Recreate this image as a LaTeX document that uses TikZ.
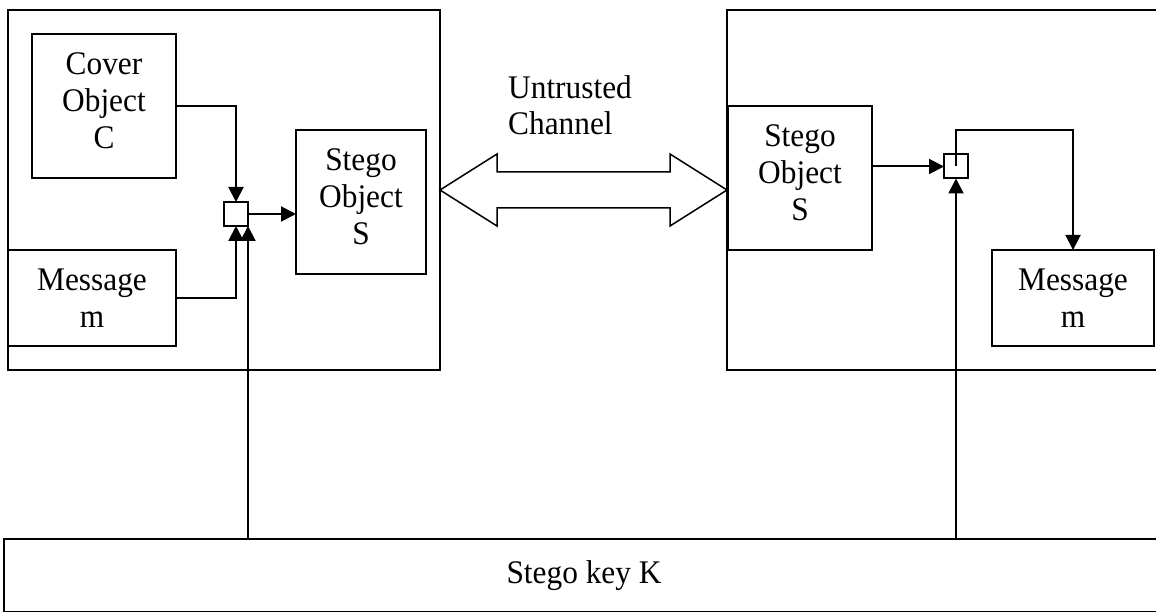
\documentclass[tikz,border=0pt]{standalone}
\usepackage{fontspec}
\setmainfont{Liberation Serif}[FakeStretch=0.95]
\usetikzlibrary{arrows.meta}
% extra depth on a last line, to lift a block of text a little
\newcommand{\lift}{\rule[-10pt]{0pt}{10pt}}
\begin{document}
\begin{tikzpicture}[x=1pt,y=-1pt,
  frame/.style={draw, line width=2pt, inner sep=0pt, outer sep=0pt},
  box/.style={frame, align=center, font=\fontsize{33}{37}\selectfont},
  junction/.style={frame, minimum width=24pt, minimum height=24pt},
  arr/.style={line width=2pt, -{Triangle[length=15pt,width=15pt]}},
  chan/.style={draw, line width=1.5pt, line join=miter}]
\useasboundingbox (0,0) rectangle (1156,612);
\clip (0,0) rectangle (1156,612);

% sender side
\node[frame, minimum width=432pt, minimum height=360pt] (sender) at (224,190) {};
\node[box, minimum width=144pt, minimum height=144pt] (cover) at (104,106) {Cover\\Object\\C\lift};
\node[box, minimum width=168pt, minimum height=96pt] (msgL) at (92,298) {Message\\m};
\node[junction] (sqL) at (236,214) {};
\node[box, minimum width=130pt, minimum height=144pt] (stegoL) at (361,202) {Stego\\Object\\S\lift};

% receiver side
\node[frame, minimum width=473pt, minimum height=360pt] (receiver) at (963.5,190) {};
\node[box, minimum width=144pt, minimum height=144pt] (stegoR) at (800,178) {Stego\\Object\\S\lift};
\node[junction] (sqR) at (956,166.5) {};
\node[box, minimum width=162pt, minimum height=96pt] (msgR) at (1073,298) {Message\\m};
\coordinate (bend) at (956,130);

% shared key
\node[box, minimum width=1160pt, minimum height=73pt] (key) at (584,575.5) {Stego key K};

% channel
\node[anchor=north west, inner sep=0pt, align=left, font=\fontsize{33}{36}\selectfont] (label) at (508,75) {Untrusted\\Channel};
\draw[chan] (sender.east) -- ++(57,-36) -- ++(0,18) -- ++(173,0) -- ++(0,-18)
  -- (receiver.west) -- ++(-57,36) -- ++(0,-18) -- ++(-173,0) -- ++(0,18) -- cycle;

% embedding
\draw[arr] (cover.east) -| (sqL.north);
\draw[arr] (msgL.east) -| (sqL.south);
\draw[arr] (key.north -| sqL.south east) -- (sqL.south east);
\draw[arr] (sqL.east) -- (sqL.east -| stegoL.west);

% extraction
\draw[arr] (stegoR.east |- sqR.west) -- (sqR.west);
\draw[arr] (key.north -| sqR.south) -- (sqR.south);
\draw[arr] (sqR.center) -- (bend) -| (msgR.north);
\end{tikzpicture}
\end{document}
